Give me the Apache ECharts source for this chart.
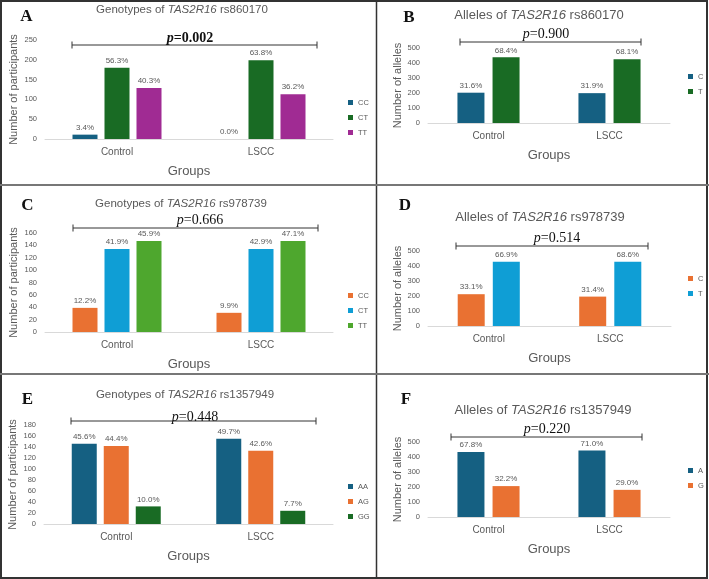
<!DOCTYPE html>
<html>
<head>
<meta charset="utf-8">
<script src="https://cdn.jsdelivr.net/npm/echarts@6/dist/echarts.min.js"></script>
<style>
  html, body { margin: 0; padding: 0; background: #fff; }
  #chart { width: 709px; height: 579px; }
</style>
</head>
<body>
<div id="chart"></div>
<script>
const groups = ['Control', 'LSCC']

// rs860170
const rs860170Genotypes = ['CC', 'CT', 'TT']
const rs860170GenoCounts = [[11, 0], [180, 199], [129, 113]]
const rs860170GenoPct = [['3.4%', '0.0%'], ['56.3%', '63.8%'], ['40.3%', '36.2%']]
const rs860170Alleles = ['C', 'T']
const rs860170AlleleCounts = [[202, 199], [438, 425]]
const rs860170AllelePct = [['31.6%', '31.9%'], ['68.4%', '68.1%']]

// rs978739
const rs978739Genotypes = ['CC', 'CT', 'TT']
const rs978739GenoCounts = [[39, 31], [134, 134], [147, 147]]
const rs978739GenoPct = [['12.2%', '9.9%'], ['41.9%', '42.9%'], ['45.9%', '47.1%']]
const rs978739Alleles = ['C', 'T']
const rs978739AlleleCounts = [[212, 196], [428, 428]]
const rs978739AllelePct = [['33.1%', '31.4%'], ['66.9%', '68.6%']]

// rs1357949
const rs1357949Genotypes = ['AA', 'AG', 'GG']
const rs1357949GenoCounts = [[146, 155], [142, 133], [32, 24]]
const rs1357949GenoPct = [['45.6%', '49.7%'], ['44.4%', '42.6%'], ['10.0%', '7.7%']]
const rs1357949Alleles = ['A', 'G']
const rs1357949AlleleCounts = [[434, 443], [206, 181]]
const rs1357949AllelePct = [['67.8%', '71.0%'], ['32.2%', '29.0%']]

const pValues = ['0.002', '0.900', '0.666', '0.514', '0.448', '0.220']
const yMax = [250, 500, 160, 500, 180, 500]
const yStep = [50, 100, 20, 100, 20, 100]

// office palette
const BLUE = '#156082', ORANGE = '#E97132', GREEN = '#196B24'
const SKY = '#0F9ED5', PURPLE = '#A02B93', LIME = '#4EA72E'
const GRAY = '#595959'
const SANS = 'Liberation Sans, Arial, sans-serif'
const SERIF = 'Liberation Serif, Times New Roman, serif'

const panels = [
  { letter: 'A', kind: 'Genotypes', snp: 'rs860170', names: rs860170Genotypes, counts: rs860170GenoCounts, pct: rs860170GenoPct, colors: [BLUE, GREEN, PURPLE] },
  { letter: 'B', kind: 'Alleles', snp: 'rs860170', names: rs860170Alleles, counts: rs860170AlleleCounts, pct: rs860170AllelePct, colors: [BLUE, GREEN] },
  { letter: 'C', kind: 'Genotypes', snp: 'rs978739', names: rs978739Genotypes, counts: rs978739GenoCounts, pct: rs978739GenoPct, colors: [ORANGE, SKY, LIME] },
  { letter: 'D', kind: 'Alleles', snp: 'rs978739', names: rs978739Alleles, counts: rs978739AlleleCounts, pct: rs978739AllelePct, colors: [ORANGE, SKY] },
  { letter: 'E', kind: 'Genotypes', snp: 'rs1357949', names: rs1357949Genotypes, counts: rs1357949GenoCounts, pct: rs1357949GenoPct, colors: [BLUE, ORANGE, GREEN] },
  { letter: 'F', kind: 'Alleles', snp: 'rs1357949', names: rs1357949Alleles, counts: rs1357949AlleleCounts, pct: rs1357949AllelePct, colors: [BLUE, ORANGE] }
]

// layout of each panel (pixels)
const layout = [
  { grid: [45, 40, 288, 99], legend: [348, 98], title: [182, 10, 11.5], letter: [26.5, 17], bracket: [72, 317, 45], pText: [190, 38], bold: true },
  { grid: [428, 48, 242, 75], legend: [688, 72], title: [539, 15, 13], letter: [409, 18], bracket: [460, 641, 42], pText: [546, 34] },
  { grid: [45, 233, 288, 99], legend: [348, 291], title: [181, 204, 11.5], letter: [27.5, 205.5], bracket: [73, 318, 228], pText: [200, 220] },
  { grid: [428, 251, 243, 75], legend: [688, 274], title: [540, 217, 13], letter: [405, 205.5], bracket: [456, 648, 246], pText: [557, 238] },
  { grid: [44, 425, 289, 99], legend: [348, 482], title: [185, 395, 11.5], letter: [27.5, 400], bracket: [71, 316, 421], pText: [195, 417] },
  { grid: [428, 442, 242, 75], legend: [688, 466], title: [543, 410, 13], letter: [406, 400], bracket: [451, 642, 437], pText: [547, 429] }
]

const grid = [], xAxis = [], yAxis = [], series = [], legend = [], graphic = []

panels.forEach((p, i) => {
  const L = layout[i]
  const three = p.names.length === 3
  grid.push({ left: L.grid[0], top: L.grid[1], width: L.grid[2], height: L.grid[3] })
  xAxis.push({
    type: 'category',
    gridIndex: i,
    data: groups,
    axisLine: { lineStyle: { color: '#d9d9d9', width: 1 } },
    axisTick: { show: false },
    axisLabel: { color: GRAY, fontSize: 10, fontFamily: SANS, margin: 8 },
    name: 'Groups',
    nameLocation: 'middle',
    nameGap: 26,
    nameTextStyle: { color: GRAY, fontSize: 13, fontFamily: SANS }
  })
  yAxis.push({
    type: 'value',
    gridIndex: i,
    min: 0,
    max: yMax[i],
    interval: yStep[i],
    axisLine: { show: false },
    axisTick: { show: false },
    splitLine: { show: false },
    axisLabel: { color: GRAY, fontSize: 7.5, fontFamily: SANS, margin: 8 },
    name: three ? 'Number of participants' : 'Number of alleles',
    nameLocation: 'middle',
    nameRotate: 90,
    nameGap: three ? 26 : 25,
    nameTextStyle: { color: GRAY, fontSize: 11, fontFamily: SANS }
  })
  const legendNames = []
  p.names.forEach((n, k) => {
    const sname = p.letter + ':' + n
    legendNames.push(sname)
    series.push({
      type: 'bar',
      name: sname,
      xAxisIndex: i,
      yAxisIndex: i,
      data: p.counts[k],
      barWidth: three ? 25 : 27,
      barGap: three ? '28%' : '30%',
      itemStyle: { color: p.colors[k] },
      label: {
        show: true,
        position: 'top',
        distance: 3,
        fontSize: 8,
        fontFamily: SANS,
        color: GRAY,
        formatter: (prm) => p.pct[k][prm.dataIndex]
      }
    })
  })
  legend.push({
    data: legendNames,
    orient: 'vertical',
    left: L.legend[0],
    top: L.legend[1],
    padding: 0,
    icon: 'rect',
    itemWidth: 5,
    itemHeight: 5,
    itemGap: 6,
    selectedMode: false,
    formatter: (name) => name.split(':')[1],
    textStyle: { color: GRAY, fontSize: 7.5, fontFamily: SANS, lineHeight: 9 }
  })

  // title
  graphic.push({
    type: 'text',
    x: L.title[0],
    y: L.title[1],
    style: {
      text: '{n|' + p.kind + ' of }{i|TAS2R16}{n| ' + p.snp + '}',
      align: 'center',
      verticalAlign: 'middle',
      rich: {
        n: { fontSize: L.title[2], fontFamily: SANS, fill: GRAY },
        i: { fontSize: L.title[2], fontFamily: SANS, fontStyle: 'italic', fill: GRAY }
      }
    }
  })
  // panel letter
  graphic.push({
    type: 'text',
    x: L.letter[0],
    y: L.letter[1],
    style: {
      text: p.letter,
      align: 'center',
      verticalAlign: 'middle',
      font: 'bold 17px ' + SERIF,
      fill: '#111'
    }
  })
  // p-value bracket
  const [x1, x2, by] = L.bracket
  graphic.push({ type: 'line', shape: { x1: x1, y1: by, x2: x2, y2: by }, style: { stroke: '#333', lineWidth: 1 } })
  graphic.push({ type: 'line', shape: { x1: x1, y1: by - 3.5, x2: x1, y2: by + 3.5 }, style: { stroke: '#333', lineWidth: 1 } })
  graphic.push({ type: 'line', shape: { x1: x2, y1: by - 3.5, x2: x2, y2: by + 3.5 }, style: { stroke: '#333', lineWidth: 1 } })
  const w = L.bold ? 'bold' : 'normal'
  graphic.push({
    type: 'text',
    x: L.pText[0],
    y: L.pText[1],
    z: 10,
    style: {
      text: '{i|p}{n|=' + pValues[i] + '}',
      align: 'center',
      verticalAlign: 'middle',
      rich: {
        i: { fontSize: 14, fontFamily: SERIF, fontStyle: 'italic', fontWeight: w, fill: '#111' },
        n: { fontSize: 14, fontFamily: SERIF, fontWeight: w, fill: '#111' }
      }
    }
  })
})

// frame and cell dividers
graphic.push({ type: 'rect', shape: { x: 1, y: 1, width: 706, height: 577 }, style: { fill: 'none', stroke: '#333', lineWidth: 2 } })
graphic.push({ type: 'line', shape: { x1: 376.5, y1: 0, x2: 376.5, y2: 579 }, style: { stroke: '#333', lineWidth: 1.5 } })
graphic.push({ type: 'line', shape: { x1: 0, y1: 185, x2: 709, y2: 185 }, style: { stroke: '#777', lineWidth: 2 } })
graphic.push({ type: 'line', shape: { x1: 0, y1: 374, x2: 709, y2: 374 }, style: { stroke: '#777', lineWidth: 2 } })

const chart = echarts.init(document.getElementById('chart'), null, { renderer: 'canvas' })
chart.setOption({
  animation: false,
  backgroundColor: '#fff',
  grid: grid,
  xAxis: xAxis,
  yAxis: yAxis,
  legend: legend,
  series: series,
  graphic: graphic
})
</script>
</body>
</html>
